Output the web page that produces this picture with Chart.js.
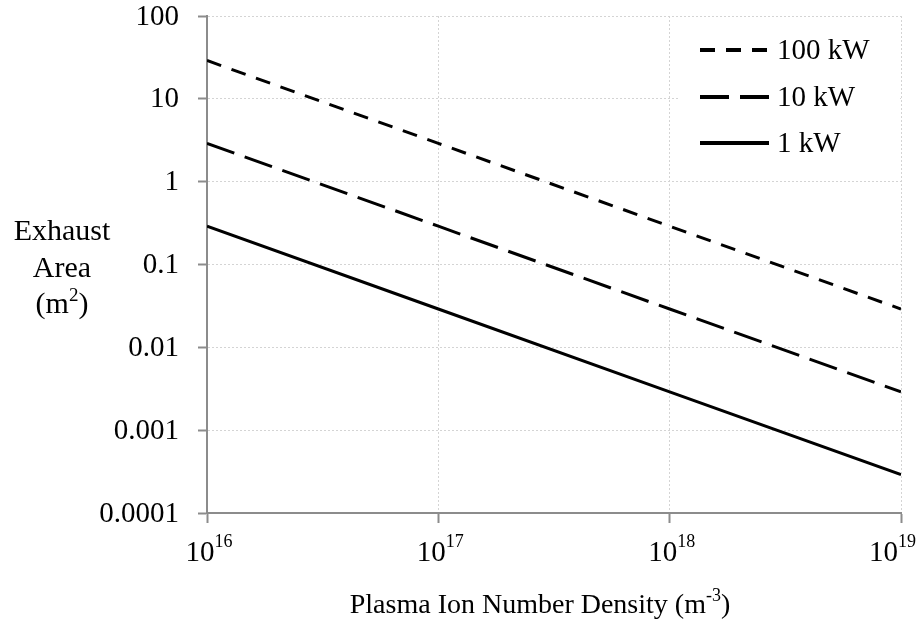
<!DOCTYPE html>
<html>
<head>
<meta charset="utf-8">
<title>Exhaust area vs plasma density</title>
<script src="https://cdn.jsdelivr.net/npm/chart.js@4.4.1/dist/chart.umd.min.js"></script>
<style>
  html, body { margin: 0; padding: 0; background: #fff; }
  #wrap { width: 917px; height: 628px; }
</style>
</head>
<body>
<div id="wrap"><canvas id="chart" width="917" height="628"></canvas></div>
<script>
// plasma ion number density (m^-3) and exhaust area (m^2) per power level
const density = [1e16, 1e17, 1e18, 1e19];
const area100kW = [29, 2.9, 0.29, 0.029];
const area10kW = [2.9, 0.29, 0.029, 0.0029];
const area1kW = [0.29, 0.029, 0.0029, 0.00029];
const seriesNames = ['100 kW', '10 kW', '1 kW'];

const xTickValues = [1e16, 1e17, 1e18, 1e19];
const xTickExponents = ['16', '17', '18', '19'];
const yTickValues = [0.0001, 0.001, 0.01, 0.1, 1, 10, 100];
const yTickLabels = ['0.0001', '0.001', '0.01', '0.1', '1', '10', '100'];

const SERIF = "'Liberation Serif', 'Times New Roman', serif";
const TEXT = '#000';

function toPoints(ys){
  return density.map((x, i) => ({ x: x, y: ys[i] }));
}

function richWidth(ctx, parts, size, supSize){
  return parts.reduce((sum, p) => {
    ctx.font = (p[1] ? supSize : size) + 'px ' + SERIF;
    return sum + ctx.measureText(p[0]).width;
  }, 0);
}

// draw a run of [text, isSuperscript] pieces; align = 'left' | 'center' | 'right'
function drawRich(ctx, parts, x, y, size, supSize, supRise, align){
  const total = richWidth(ctx, parts, size, supSize);
  let cx = align === 'center' ? x - total / 2 : align === 'right' ? x - total : x;
  ctx.textAlign = 'left';
  ctx.textBaseline = 'alphabetic';
  parts.forEach(p => {
    ctx.font = (p[1] ? supSize : size) + 'px ' + SERIF;
    ctx.fillText(p[0], cx, p[1] ? y - supRise : y);
    cx += ctx.measureText(p[0]).width;
  });
}

// tick labels and axis titles (with superscripts, so drawn by hand)
const axisText = {
  id: 'axisText',
  afterDraw(chart){
    const ctx = chart.ctx;
    const area = chart.chartArea;
    const xs = chart.scales.x, ys = chart.scales.y;
    ctx.save();
    ctx.fillStyle = TEXT;

    ctx.font = '29px ' + SERIF;
    ctx.textAlign = 'right';
    ctx.textBaseline = 'middle';
    yTickValues.forEach((v, i) => {
      ctx.fillText(yTickLabels[i], area.left - 28, ys.getPixelForValue(v) + 1);
    });

    xTickValues.forEach((v, i) => {
      const parts = [['10', false], [xTickExponents[i], true]];
      const half = richWidth(ctx, parts, 29, 18) / 2;
      // keep the last label inside the canvas
      const cx = Math.min(xs.getPixelForValue(v) + 2, chart.width - half - 1);
      drawRich(ctx, parts, cx, area.bottom + 48, 29, 18, 14, 'center');
    });

    drawRich(ctx, [['Plasma Ion Number Density (m', false], ['-3', true], [')', false]],
      540, area.bottom + 100, 28, 18, 12, 'center');

    drawRich(ctx, [['Exhaust', false]], 62, 240, 30, 19, 12, 'center');
    drawRich(ctx, [['Area', false]], 62, 277, 30, 19, 12, 'center');
    drawRich(ctx, [['(m', false], ['2', true], [')', false]], 62, 313, 30, 19, 12, 'center');
    ctx.restore();
  }
};

// boxed legend inside the plot, top right
const lineLegend = {
  id: 'lineLegend',
  afterDatasetsDraw(chart){
    const ctx = chart.ctx;
    const area = chart.chartArea;
    const boxLeft = 678, boxTop = 22, boxRight = area.right - 3, boxBottom = 172;
    ctx.save();
    ctx.fillStyle = '#fff';
    ctx.fillRect(boxLeft, boxTop, boxRight - boxLeft, boxBottom - boxTop);
    const rows = [50, 97, 143];
    chart.data.datasets.forEach((ds, i) => {
      const y = rows[i];
      ctx.beginPath();
      ctx.strokeStyle = ds.borderColor;
      ctx.lineWidth = 4;
      ctx.lineCap = 'butt';
      ctx.setLineDash(ds.borderDash || []);
      ctx.moveTo(700, y);
      ctx.lineTo(769, y);
      ctx.stroke();
      ctx.setLineDash([]);
      ctx.fillStyle = TEXT;
      ctx.font = '29px ' + SERIF;
      ctx.textAlign = 'left';
      ctx.textBaseline = 'middle';
      ctx.fillText(ds.label, 777, y + 1);
    });
    ctx.restore();
  }
};

function logAxis(min, max, ticks, tickLength){
  return {
    type: 'logarithmic',
    min: min,
    max: max,
    afterBuildTicks: s => { s.ticks = ticks.map(v => ({ value: v })); },
    ticks: { display: false },
    grid: {
      color: '#d4d4d4', lineWidth: 1,
      tickColor: '#8c8c8c', tickWidth: 2, tickLength: tickLength, tickBorderDash: []
    },
    border: { display: true, color: '#8c8c8c', width: 2, dash: [2, 2] }
  };
}

new Chart(document.getElementById('chart'), {
  type: 'scatter',
  data: {
    datasets: [
      { label: seriesNames[0], data: toPoints(area100kW), borderDash: [15, 11] },
      { label: seriesNames[1], data: toPoints(area10kW), borderDash: [29, 11] },
      { label: seriesNames[2], data: toPoints(area1kW), borderDash: [] }
    ].map(d => Object.assign(d, {
      showLine: true, borderColor: '#000', backgroundColor: '#000',
      borderWidth: 3, pointRadius: 0, tension: 0, fill: false, borderCapStyle: 'butt'
    }))
  },
  options: {
    responsive: false,
    animation: false,
    devicePixelRatio: 1,
    layout: { padding: { left: 198, right: 16, top: 16, bottom: 105 } },
    plugins: { legend: { display: false }, tooltip: { enabled: false } },
    scales: {
      x: logAxis(1e16, 1e19, xTickValues, 10),
      y: logAxis(0.0001, 100, yTickValues, 9)
    }
  },
  plugins: [lineLegend, axisText]
});
</script>
</body>
</html>
